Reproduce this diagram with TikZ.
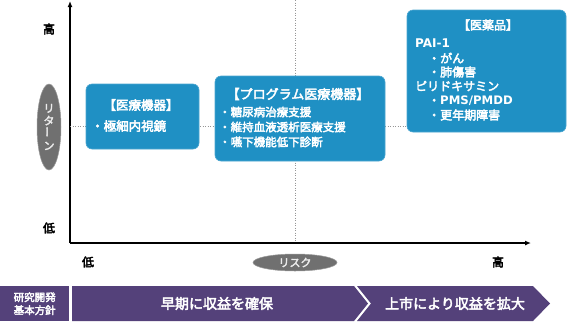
\documentclass[tikz,border=0pt]{standalone}
\usepackage{fontspec}
\usepackage{graphicx}
\setmainfont{Noto Sans CJK JP}[AutoFakeBold=3.2]
\newfontfamily\latinb{DejaVu Sans}
\usetikzlibrary{arrows.meta,shapes.geometric}
\definecolor{boxblue}{RGB}{31,144,196}
\definecolor{bannerc}{RGB}{84,65,122}
\definecolor{ellgray}{RGB}{112,112,112}
\definecolor{dotgray}{RGB}{150,150,150}
\begin{document}
\begin{tikzpicture}[x=1pt,y=-1pt,
  axisline/.style={line width=1.3pt,-{Latex[length=6pt,width=5pt]}},
  dotline/.style={dotgray,line width=1pt,dash pattern=on 1.2pt off 1.3pt},
  bluebox/.style={fill=boxblue,draw=boxblue!80!white,line width=0.6pt,rounded corners=6pt,inner sep=0pt},
  wtxt/.style={text=white,inner sep=0pt,font=\bfseries\fontsize{#1}{#1}\selectfont},
  wtxt/.default=12,
  ktxt/.style={text=black,inner sep=0pt,font=\bfseries\fontsize{12}{12}\selectfont},
  grayell/.style={ellipse,fill=ellgray,draw=ellgray!70!white,line width=0.5pt,inner sep=0pt,text=white!92!black,font=\bfseries\fontsize{11}{12.5}\selectfont},
  bannertxt/.style={text=white,inner sep=0pt,font=\bfseries\fontsize{14}{14}\selectfont}]
\useasboundingbox (0,0) rectangle (567,322);
% dotted guide lines
\coordinate (vtop) at (295,0);
\coordinate (vbot) at (295,243);
\coordinate (hl) at (70,126);
\draw[dotline] (vtop) -- (vbot);
% axes
\coordinate (O) at (70,243);
\coordinate (ytop) at (70,1);
\coordinate (xend) at (531,243);
\draw[axisline] (O) -- (ytop);
\draw[axisline] (O) -- (xend);
% boxes
\node[bluebox,minimum width=159pt,minimum height=122pt] (b3) at (486.5,71) {};
\draw[dotline] (hl) -- (hl -| b3.west);
\node[bluebox,minimum width=113pt,minimum height=65pt] (b1) at (142.5,116.5) {};
\node[bluebox,minimum width=170pt,minimum height=85pt] (b2) at (300,118.5) {};
% box 1 text
\node[wtxt=12.5] (b1t) at (141,105) {【医療機器】};
\node[wtxt=12.5,anchor=west] (b1a) at (91,126) {・極細内視鏡};
% box 2 text
\node[wtxt=13] (b2t) at (298,94) {【プログラム医療機器】};
\node[wtxt=11.5,anchor=west] (b2a) at (219,112) {・糖尿病治療支援};
\node[wtxt=11.5,anchor=west] (b2b) at (219,127) {・維持血液透析医療支援};
\node[wtxt=11.5,anchor=west] (b2c) at (219,142) {・嚥下機能低下診断};
% box 3 text
\node[wtxt] (b3t) at (488,25) {【医薬品】};
\node[wtxt,anchor=west] (b3a) at (415,43) {{\latinb\bfseries PAI-1}};
\node[wtxt,anchor=west] (b3b) at (428,58) {・がん};
\node[wtxt,anchor=west] (b3c) at (428,72) {・肺傷害};
\node[wtxt,anchor=west] (b3d) at (415,86) {ピリドキサミン};
\node[wtxt,anchor=west] (b3e) at (428,101) {・{\latinb\bfseries\fontsize{11.7}{12}\selectfont PMS/PMDD}};
\node[wtxt,anchor=west] (b3f) at (428,115) {・更年期障害};
% axis labels
\node[ktxt] (yhi) at (49,29) {高};
\node[ktxt] (ylo) at (49,228) {低};
\node[ktxt] (xlo) at (88,262) {低};
\node[ktxt] (xhi) at (498,262) {高};
\node[grayell,minimum width=24pt,minimum height=86pt,align=center] (ret) at (49,127) {リ\\タ\\\rotatebox{90}{ー}\\ン};
\node[grayell,minimum width=84pt,minimum height=17pt] (risk) at (295,262.5) {リスク};
% banner
\node[fill=bannerc,minimum width=69pt,minimum height=35pt,anchor=north west,inner sep=0pt,align=center,text=white,font=\bfseries\fontsize{10.5}{13}\selectfont] (policy) at (0,286) {研究開発\\基本方針};
\fill[bannerc] (72,286) -- (354,286) -- (368,303.5) -- (354,321) -- (72,321) -- cycle;
\fill[bannerc] (357,286) -- (533,286) -- (550,303.5) -- (533,321) -- (357,321) -- (371,303.5) -- cycle;
\node[bannertxt] (s1) at (217,303.5) {早期に収益を確保};
\node[bannertxt] (s2) at (455,303.5) {上市により収益を拡大};
\end{tikzpicture}
\end{document}
